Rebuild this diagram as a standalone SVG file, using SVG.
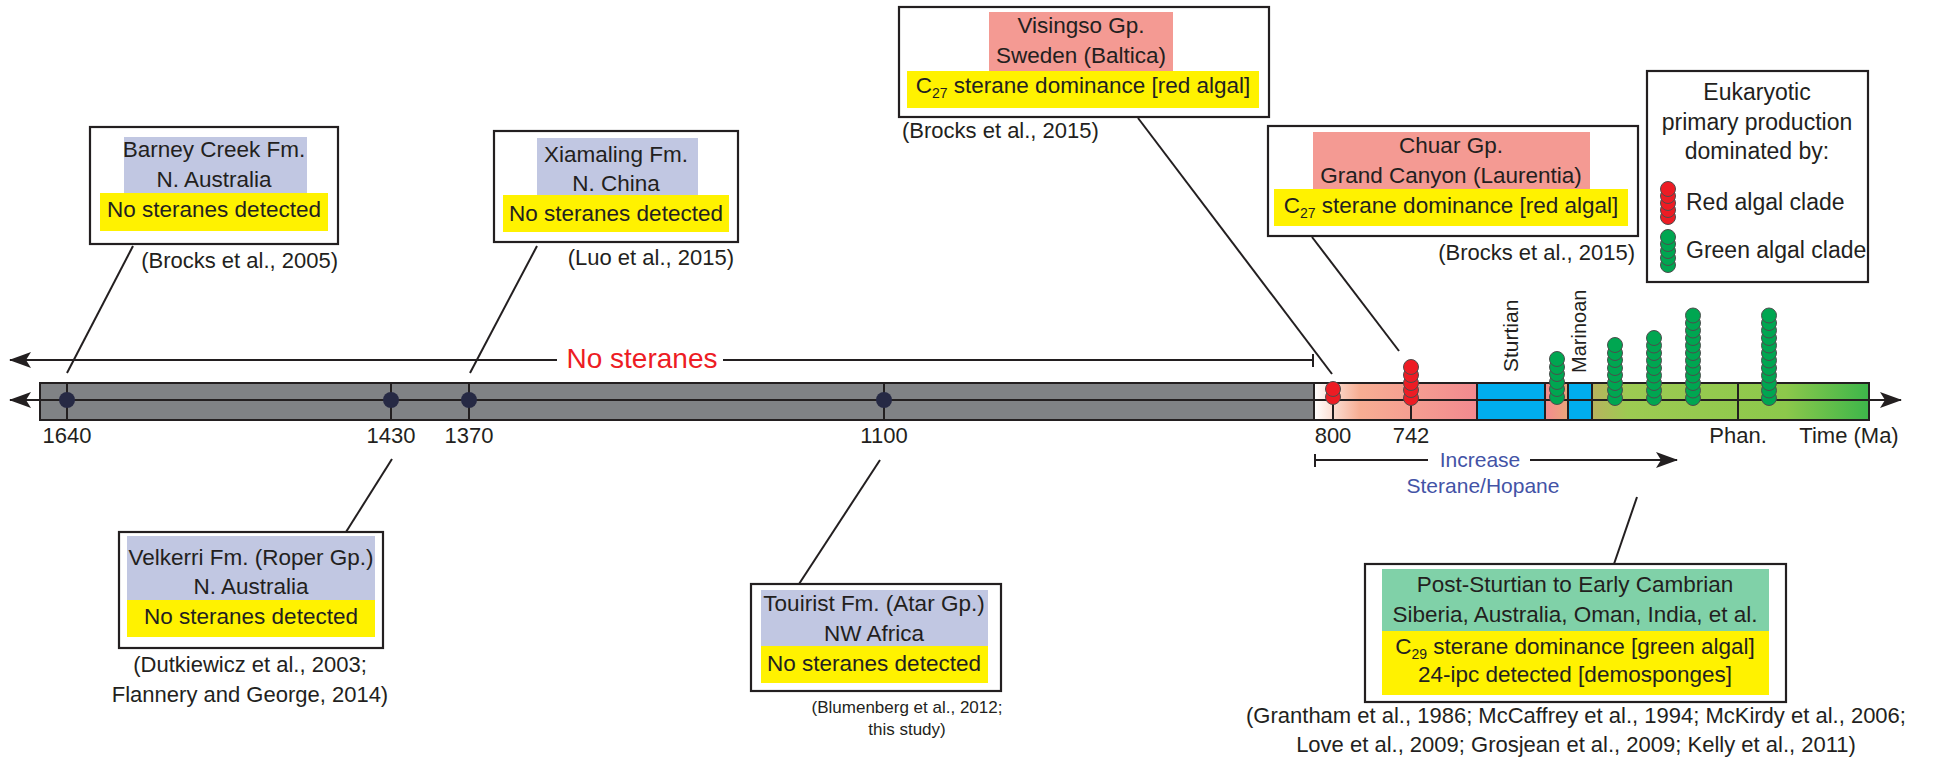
<svg xmlns="http://www.w3.org/2000/svg" width="1933" height="759" viewBox="0 0 1933 759">
<style>
text{font-family:"Liberation Sans",Arial,sans-serif;fill:#231f20}
.bx{fill:#fff;stroke:#231f20;stroke-width:2.2}
.bt{font-size:22.5px;text-anchor:middle}
.ct{font-size:22px}
.ax{font-size:22px;text-anchor:middle}
.ln{stroke:#231f20;stroke-width:2;fill:none}
.tk{stroke:#231f20;stroke-width:2}
.rd{fill:#ed1c24;stroke:#4d4d4d;stroke-width:1}
.gr{fill:#00a651;stroke:#4d4d4d;stroke-width:1}
.dt{fill:#262944}
.lav{fill:#c1c7e2}
.yel{fill:#fff200}
.pnk{fill:#f49a93}
.grn{fill:#80d1a8}
</style>
<defs>
<marker id="ah" viewBox="0 0 22 16" refX="21" refY="8" markerWidth="22" markerHeight="16" markerUnits="userSpaceOnUse" orient="auto-start-reverse">
<path d="M0,0 L22,8 L0,16 L5,8 Z" fill="#231f20"/>
</marker>
<linearGradient id="gRed" x1="0" x2="1" y1="0" y2="0">
<stop offset="0" stop-color="#ffffff"/>
<stop offset="0.28" stop-color="#f7ae93"/>
<stop offset="1" stop-color="#f28a8f"/>
</linearGradient>
<linearGradient id="gPO" x1="0" x2="1" y1="0" y2="0">
<stop offset="0" stop-color="#f48b8f"/>
<stop offset="1" stop-color="#e9a67a"/>
</linearGradient>
<linearGradient id="gGrn" x1="0" x2="1" y1="0" y2="0">
<stop offset="0" stop-color="#b8b35e"/>
<stop offset="0.13" stop-color="#9dca52"/>
<stop offset="0.7" stop-color="#8cc84b"/>
<stop offset="1" stop-color="#3db54a"/>
</linearGradient>
</defs>

<g id="timeline">
<rect x="40" y="383" width="1274" height="37" fill="#808285"/>
<rect x="1314" y="383" width="163" height="37" fill="url(#gRed)"/>
<rect x="1477" y="383" width="68" height="37" fill="#00aeef"/>
<rect x="1545" y="383" width="23" height="37" fill="url(#gPO)"/>
<rect x="1568" y="383" width="24" height="37" fill="#00aeef"/>
<rect x="1592" y="383" width="277" height="37" fill="url(#gGrn)"/>
<rect x="40" y="383" width="1829" height="37" class="ln"/>
<path class="tk" d="M1314,383V420M1477,383V420M1545,383V420M1568,383V420M1592,383V420M1738,383V420M67,383V420M391,383V420M469,383V420M884,383V420M1333,383V420M1411,383V420"/>
<line x1="10" y1="400" x2="1901" y2="400" class="ln" marker-start="url(#ah)" marker-end="url(#ah)"/>
<circle class="dt" cx="67" cy="400" r="8"/>
<circle class="dt" cx="391" cy="400" r="8"/>
<circle class="dt" cx="469" cy="400" r="8"/>
<circle class="dt" cx="884" cy="400" r="8"/>
<text class="ax" x="67" y="443">1640</text>
<text class="ax" x="391" y="443">1430</text>
<text class="ax" x="469" y="443">1370</text>
<text class="ax" x="884" y="443">1100</text>
<text class="ax" x="1333" y="443">800</text>
<text class="ax" x="1411" y="443">742</text>
<text class="ax" x="1738" y="443">Phan.</text>
<text class="ax" x="1849" y="443">Time (Ma)</text>
<text transform="translate(1518,372) rotate(-90)" font-size="21">Sturtian</text>
<text transform="translate(1586,373) rotate(-90)" font-size="20">Marinoan</text>
</g>

<g id="stacks">
<circle class="rd" cx="1333" cy="397" r="7.5"/><circle class="rd" cx="1333" cy="389" r="7.5"/>
<circle class="rd" cx="1411" cy="398" r="7.5"/><circle class="rd" cx="1411" cy="390" r="7.5"/><circle class="rd" cx="1411" cy="383" r="7.5"/><circle class="rd" cx="1411" cy="375" r="7.5"/><circle class="rd" cx="1411" cy="367" r="7.5"/>
<circle class="gr" cx="1557" cy="397" r="7.5"/><circle class="gr" cx="1557" cy="389" r="7.5"/><circle class="gr" cx="1557" cy="382" r="7.5"/><circle class="gr" cx="1557" cy="374" r="7.5"/><circle class="gr" cx="1557" cy="367" r="7.5"/><circle class="gr" cx="1557" cy="359" r="7.5"/>
<circle class="gr" cx="1615" cy="398" r="7.5"/><circle class="gr" cx="1615" cy="390" r="7.5"/><circle class="gr" cx="1615" cy="383" r="7.5"/><circle class="gr" cx="1615" cy="375" r="7.5"/><circle class="gr" cx="1615" cy="368" r="7.5"/><circle class="gr" cx="1615" cy="360" r="7.5"/><circle class="gr" cx="1615" cy="353" r="7.5"/><circle class="gr" cx="1615" cy="345" r="7.5"/>
<circle class="gr" cx="1654" cy="398" r="7.5"/><circle class="gr" cx="1654" cy="390.5" r="7.5"/><circle class="gr" cx="1654" cy="383" r="7.5"/><circle class="gr" cx="1654" cy="375.5" r="7.5"/><circle class="gr" cx="1654" cy="368" r="7.5"/><circle class="gr" cx="1654" cy="360.5" r="7.5"/><circle class="gr" cx="1654" cy="353" r="7.5"/><circle class="gr" cx="1654" cy="345.5" r="7.5"/><circle class="gr" cx="1654" cy="338" r="7.5"/>
<circle class="gr" cx="1693" cy="398" r="7.5"/><circle class="gr" cx="1693" cy="390.5" r="7.5"/><circle class="gr" cx="1693" cy="383" r="7.5"/><circle class="gr" cx="1693" cy="375.5" r="7.5"/><circle class="gr" cx="1693" cy="368" r="7.5"/><circle class="gr" cx="1693" cy="360.5" r="7.5"/><circle class="gr" cx="1693" cy="353" r="7.5"/><circle class="gr" cx="1693" cy="345.5" r="7.5"/><circle class="gr" cx="1693" cy="338" r="7.5"/><circle class="gr" cx="1693" cy="330.5" r="7.5"/><circle class="gr" cx="1693" cy="323" r="7.5"/><circle class="gr" cx="1693" cy="315.5" r="7.5"/>
<circle class="gr" cx="1769" cy="398" r="7.5"/><circle class="gr" cx="1769" cy="390.5" r="7.5"/><circle class="gr" cx="1769" cy="383" r="7.5"/><circle class="gr" cx="1769" cy="375.5" r="7.5"/><circle class="gr" cx="1769" cy="368" r="7.5"/><circle class="gr" cx="1769" cy="360.5" r="7.5"/><circle class="gr" cx="1769" cy="353" r="7.5"/><circle class="gr" cx="1769" cy="345.5" r="7.5"/><circle class="gr" cx="1769" cy="338" r="7.5"/><circle class="gr" cx="1769" cy="330.5" r="7.5"/><circle class="gr" cx="1769" cy="323" r="7.5"/><circle class="gr" cx="1769" cy="315.5" r="7.5"/>
</g>

<g id="no-steranes">
<line x1="557" y1="360" x2="10" y2="360" class="ln" marker-end="url(#ah)"/>
<line x1="723" y1="360" x2="1313" y2="360" class="ln"/>
<line x1="1313" y1="354" x2="1313" y2="367" class="tk"/>
<text x="642" y="368" font-size="28" text-anchor="middle" style="fill:#ed1c24">No steranes</text>
</g>

<g id="increase">
<line x1="1315" y1="460" x2="1428" y2="460" class="ln"/>
<line x1="1530" y1="460" x2="1677" y2="460" class="ln" marker-end="url(#ah)"/>
<line x1="1315" y1="454" x2="1315" y2="467" class="tk"/>
<text x="1480" y="467" font-size="21" text-anchor="middle" style="fill:#4353a6">Increase</text>
<text x="1483" y="493" font-size="21" text-anchor="middle" style="fill:#4353a6">Sterane/Hopane</text>
</g>

<g id="connectors">
<line x1="133" y1="246" x2="67" y2="373" class="ln"/>
<line x1="537" y1="246" x2="470" y2="373" class="ln"/>
<line x1="1138" y1="118" x2="1332" y2="374" class="ln"/>
<line x1="1312" y1="237" x2="1399" y2="351" class="ln"/>
<line x1="346" y1="532" x2="392" y2="459" class="ln"/>
<line x1="799" y1="584" x2="880" y2="460" class="ln"/>
<line x1="1614" y1="564" x2="1637" y2="497" class="ln"/>
</g>

<g id="barney-creek">
<rect class="bx" x="90" y="127" width="248" height="117"/>
<rect class="lav" x="124" y="137" width="183" height="56"/>
<rect class="yel" x="100" y="193" width="228" height="38"/>
<text class="bt" x="214" y="157">Barney Creek Fm.</text>
<text class="bt" x="214" y="187">N. Australia</text>
<text class="bt" x="214" y="217">No steranes detected</text>
<text class="ct" x="338" y="268" text-anchor="end">(Brocks et al., 2005)</text>
</g>

<g id="xiamaling">
<rect class="bx" x="494" y="131" width="244" height="111"/>
<rect class="lav" x="537" y="138" width="161" height="57"/>
<rect class="yel" x="503" y="195" width="226" height="37"/>
<text class="bt" x="616" y="162">Xiamaling Fm.</text>
<text class="bt" x="616" y="191">N. China</text>
<text class="bt" x="616" y="221">No steranes detected</text>
<text class="ct" x="734" y="265" text-anchor="end">(Luo et al., 2015)</text>
</g>

<g id="visingso">
<rect class="bx" x="899" y="7" width="370" height="110"/>
<rect class="pnk" x="989" y="12" width="184" height="59"/>
<rect class="yel" x="907" y="71" width="352" height="37"/>
<text class="bt" x="1081" y="33">Visingso Gp.</text>
<text class="bt" x="1081" y="63">Sweden (Baltica)</text>
<text class="bt" x="1083" y="93">C<tspan font-size="14" dy="5">27</tspan><tspan dy="-5"> sterane dominance [red algal]</tspan></text>
<text class="ct" x="902" y="138">(Brocks et al., 2015)</text>
</g>

<g id="chuar">
<rect class="bx" x="1268" y="126" width="370" height="110"/>
<rect class="pnk" x="1313" y="132" width="277" height="57"/>
<rect class="yel" x="1274" y="189" width="354" height="37"/>
<text class="bt" x="1451" y="153">Chuar Gp.</text>
<text class="bt" x="1451" y="183">Grand Canyon (Laurentia)</text>
<text class="bt" x="1451" y="213">C<tspan font-size="14" dy="5">27</tspan><tspan dy="-5"> sterane dominance [red algal]</tspan></text>
<text class="ct" x="1635" y="260" text-anchor="end">(Brocks et al., 2015)</text>
</g>

<g id="legend">
<rect class="bx" x="1647" y="71" width="221" height="211"/>
<text x="1757" y="100" font-size="23" text-anchor="middle">Eukaryotic</text>
<text x="1757" y="130" font-size="23" text-anchor="middle">primary production</text>
<text x="1757" y="159" font-size="23" text-anchor="middle">dominated by:</text>
<circle class="rd" cx="1668" cy="217" r="7.5"/><circle class="rd" cx="1668" cy="210" r="7.5"/><circle class="rd" cx="1668" cy="203" r="7.5"/><circle class="rd" cx="1668" cy="196" r="7.5"/><circle class="rd" cx="1668" cy="189" r="7.5"/>
<circle class="gr" cx="1668" cy="265" r="7.5"/><circle class="gr" cx="1668" cy="258" r="7.5"/><circle class="gr" cx="1668" cy="251" r="7.5"/><circle class="gr" cx="1668" cy="244" r="7.5"/><circle class="gr" cx="1668" cy="237" r="7.5"/>
<text x="1686" y="210" font-size="23">Red algal clade</text>
<text x="1686" y="258" font-size="23">Green algal clade</text>
</g>

<g id="velkerri">
<rect class="bx" x="119" y="532" width="264" height="116"/>
<rect class="lav" x="127" y="536" width="248" height="64"/>
<rect class="yel" x="127" y="600" width="248" height="37"/>
<text class="bt" x="251" y="565">Velkerri Fm. (Roper Gp.)</text>
<text class="bt" x="251" y="594">N. Australia</text>
<text class="bt" x="251" y="624">No steranes detected</text>
<text class="ct" x="250" y="672" text-anchor="middle">(Dutkiewicz et al., 2003;</text>
<text class="ct" x="250" y="702" text-anchor="middle">Flannery and George, 2014)</text>
</g>

<g id="touirist">
<rect class="bx" x="751" y="584" width="250" height="107"/>
<rect class="lav" x="761" y="590" width="227" height="56"/>
<rect class="yel" x="761" y="646" width="227" height="37"/>
<text class="bt" x="874" y="611">Touirist Fm. (Atar Gp.)</text>
<text class="bt" x="874" y="641">NW Africa</text>
<text class="bt" x="874" y="671">No steranes detected</text>
<text x="907" y="713" font-size="17" text-anchor="middle">(Blumenberg et al., 2012;</text>
<text x="907" y="735" font-size="17" text-anchor="middle">this study)</text>
</g>

<g id="post-sturtian">
<rect class="bx" x="1365" y="564" width="421" height="138"/>
<rect class="grn" x="1382" y="569" width="387" height="62"/>
<rect class="yel" x="1382" y="631" width="387" height="64"/>
<text class="bt" x="1575" y="592">Post-Sturtian to Early Cambrian</text>
<text class="bt" x="1575" y="622">Siberia, Australia, Oman, India, et al.</text>
<text class="bt" x="1575" y="654">C<tspan font-size="14" dy="5">29</tspan><tspan dy="-5"> sterane dominance [green algal]</tspan></text>
<text class="bt" x="1575" y="682">24-ipc detected [demosponges]</text>
<text class="ct" x="1576" y="723" text-anchor="middle">(Grantham et al., 1986; McCaffrey et al., 1994; McKirdy et al., 2006;</text>
<text class="ct" x="1576" y="752" text-anchor="middle">Love et al., 2009; Grosjean et al., 2009; Kelly et al., 2011)</text>
</g>
</svg>
